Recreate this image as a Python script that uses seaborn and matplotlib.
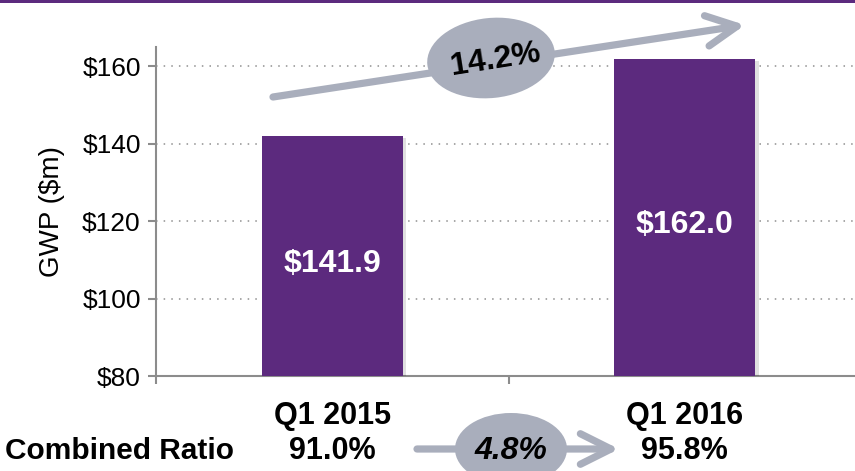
import matplotlib
matplotlib.use("Agg")
import matplotlib.pyplot as plt
import matplotlib.transforms as mtransforms
import matplotlib.patheffects as pe
from matplotlib.patches import Ellipse, FancyArrowPatch, Rectangle, ArrowStyle
import seaborn as sns
import pandas as pd

# ---- data ----
quarters = ["Q1 2015", "Q1 2016"]
gwp = [141.9, 162.0]
bar_labels = ["$141.9", "$162.0"]
combined_ratio = ["91.0%", "95.8%"]
ratio_title = "Combined Ratio"
gwp_growth = "14.2%"
ratio_change = "4.8%"
yticks = [80, 100, 120, 140, 160]
ytick_labels = ["$80", "$100", "$120", "$140", "$160"]
y_label = "GWP ($m)"

PURPLE = "#5C2A7E"
GREY = "#A9AEBC"
AXGREY = "#8C8C8C"

sns.set_theme(style="white")
plt.rcParams['font.family'] = ['Liberation Sans', 'DejaVu Sans']
plt.rcParams.update({"text.color": "black", "axes.labelcolor": "black",
                     "xtick.color": "black", "ytick.color": "black"})

W, H = 855, 471
DPI = 100
fig = plt.figure(figsize=(W / DPI, H / DPI), dpi=DPI)
fig.patch.set_facecolor("white")

# pixel (from top-left) transform for decorations
px = mtransforms.Affine2D().scale(1 / DPI, -1 / DPI).translate(0, H / DPI) + fig.dpi_scale_trans

ax = fig.add_axes([156 / W, (H - 376) / H, (861 - 156) / W, (376 - 47) / H])
df = pd.DataFrame({"quarter": quarters, "gwp": gwp})
sns.barplot(data=df, x="quarter", y="gwp", color=PURPLE, width=0.4,
            saturation=1, ax=ax, zorder=3, linewidth=0)
for p in ax.patches:
    p.set_path_effects([pe.SimplePatchShadow(offset=(2.5, -1.5), alpha=0.12, shadow_rgbFace="black"), pe.Normal()])

ax.set_xlim(-0.5, 1.5)
ax.set_ylim(80, 165)
ax.set_yticks(yticks)
ax.set_yticklabels(ytick_labels, fontsize=19, color="black")
ax.set_ylabel(y_label, fontsize=20, labelpad=12, color="black")
ax.set_xlabel("")

# grid: dotted lines at value ticks
for v in yticks[1:]:
    ax.axhline(v, color="#8F8F8F", lw=1.1, ls=(0, (1, 4)), zorder=1)

for s in ["top", "right"]:
    ax.spines[s].set_visible(False)
for s in ["left", "bottom"]:
    ax.spines[s].set_color(AXGREY)
    ax.spines[s].set_linewidth(1.5)

ax.tick_params(axis="y", direction="out", length=6, width=1.5, color=AXGREY, pad=5, left=True,
               labelcolor="black")
ax.set_xticks([0, 1])
ax.set_xticklabels(quarters, fontsize=22, fontweight="bold", color="black")
ax.set_xticks([-0.5, 0.5, 1.5], minor=True)
ax.tick_params(axis="x", which="major", length=0, pad=18, labelcolor="black")
ax.tick_params(axis="x", which="minor", direction="out", length=6, width=1.5, color=AXGREY, bottom=True)

# bar value labels
for i, (v, lab) in enumerate(zip(gwp, bar_labels)):
    ax.text(i, (80 + v) / 2 - 2, lab, ha="center", va="center", color="white",
            fontsize=23, fontweight="bold", zorder=4)

# combined ratio row
bl = mtransforms.blended_transform_factory(ax.transData, px)
for i, lab in enumerate(combined_ratio):
    ax.text(i, 451, lab, transform=bl, ha="center", va="center", fontsize=22,
            fontweight="bold", clip_on=False, color="black")
fig.text(5, 451, ratio_title, transform=px, ha="left", va="center", fontsize=21.5,
         fontweight="bold", color="black")

# top purple rule
fig.add_artist(Rectangle((0, 0), W, 2.5, transform=px, color=PURPLE, lw=0))

# growth arrow (top)
style = ArrowStyle("->", head_length=1.1, head_width=0.55)
arr = FancyArrowPatch((273, 97), (745, 25), transform=px, arrowstyle=style,
                      mutation_scale=20, color=GREY, lw=5.2, capstyle="round",
                      joinstyle="round", shrinkA=0, shrinkB=0)
fig.add_artist(arr)
fig.add_artist(Ellipse((491, 58), 128, 80, angle=-6, transform=px, color=GREY, lw=0))
fig.text(496, 60, gwp_growth, transform=px, ha="center", va="center", rotation=9,
         fontsize=23, fontweight="bold", color="black")

# ratio change arrow (bottom)
arr2 = FancyArrowPatch((417, 449), (619, 449), transform=px, arrowstyle=style,
                       mutation_scale=20, color=GREY, lw=5.2, capstyle="round",
                       joinstyle="round", shrinkA=0, shrinkB=0)
fig.add_artist(arr2)
fig.add_artist(Ellipse((511, 449), 112, 72, transform=px, color=GREY, lw=0))
fig.text(511, 451, ratio_change, transform=px, ha="center", va="center",
         fontsize=23, fontweight="bold", fontstyle="italic", color="black")

fig.savefig("out.png", dpi=DPI)
